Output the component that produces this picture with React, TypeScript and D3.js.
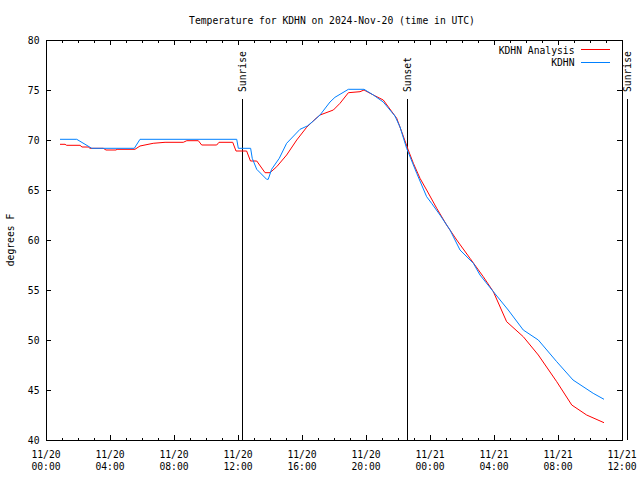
import React from "react";
import * as d3 from "d3";

const TITLE = "Temperature for KDHN on 2024-Nov-20 (time in UTC)";
const Y_LABEL = "degrees F";
const START = "2024-11-20T00:00:00Z";
const END = "2024-11-21T12:00:00Z";

// hours after 11/20 00:00 UTC
const analysisHours = [0.875, 1.19, 1.29, 2.125, 2.25, 2.64, 2.75, 3.58, 3.75, 4.375, 4.44, 5.56, 5.875, 6.7, 7.44, 8.58, 8.8, 9.52, 9.73, 10.67, 10.81, 11.67, 11.875, 12.54, 12.78, 13.17, 13.69, 14.0, 14.42, 15.04, 15.67, 16.29, 16.81, 17.125, 17.96, 18.375, 18.9, 19.625, 19.875, 20.46, 21.08, 21.92, 22.23, 22.64, 22.96, 23.375, 23.79, 24.42, 25.04, 25.67, 26.5, 27.33, 27.96, 28.79, 29.83, 30.77, 31.92, 32.86, 33.79, 34.875];
const analysisTemps = [69.57, 69.57, 69.47, 69.47, 69.3, 69.3, 69.17, 69.17, 69.0, 69.0, 69.07, 69.07, 69.4, 69.67, 69.77, 69.77, 69.93, 69.93, 69.5, 69.5, 69.77, 69.77, 68.9, 68.9, 67.9, 67.9, 66.73, 66.73, 67.33, 68.5, 70.0, 71.27, 72.07, 72.5, 73.0, 73.67, 74.73, 74.83, 75.0, 74.5, 74.0, 72.17, 70.83, 69.0, 67.67, 66.17, 65.0, 63.17, 61.5, 60.0, 58.17, 56.33, 54.83, 51.83, 50.33, 48.5, 45.83, 43.5, 42.5, 41.73];

const obsHours = [0.875, 1.92, 2.86, 5.52, 5.875, 11.92, 12.02, 12.79, 12.89, 13.17, 13.79, 13.89, 14.1, 14.58, 15.04, 15.875, 16.33, 16.71, 17.125, 17.75, 18.06, 18.9, 19.875, 20.46, 21.08, 21.81, 22.125, 22.54, 23.17, 23.79, 24.1, 24.625, 25.25, 25.875, 26.71, 27.125, 27.96, 28.89, 29.83, 30.77, 31.92, 32.94, 34.2, 34.875];
const obsTemps = [70.07, 70.07, 69.17, 69.17, 70.07, 70.07, 69.17, 69.17, 68.17, 67.07, 66.07, 66.07, 67.07, 68.17, 69.67, 71.07, 71.4, 71.9, 72.5, 73.8, 74.27, 75.07, 75.07, 74.5, 73.8, 72.4, 71.3, 69.17, 66.67, 64.33, 63.67, 62.5, 61.0, 59.0, 57.67, 56.5, 54.83, 53.0, 51.0, 50.0, 47.83, 46.0, 44.67, 44.07];

const eventLabels = ["Sunrise", "Sunset", "Sunrise"];
const eventHours = [12.25, 22.56, 36.31];

const seriesNames = ["KDHN Analysis", "KDHN"];
const seriesColors = ["#ff0000", "#0080ff"];

const yTicks = [40, 45, 50, 55, 60, 65, 70, 75, 80];

const W = 640, H = 480;
const L = 46, R = 622, T = 40, B = 440;
const FONT = "'DejaVu Sans Mono', 'Liberation Mono', monospace";
const FS = 9.7;

export default function App() {
  const t0 = new Date(START).getTime();
  const toDate = (h: number) => new Date(t0 + h * 3600e3);
  const x = d3.scaleUtc().domain([new Date(START), new Date(END)]).range([L, R]);
  const y = d3.scaleLinear().domain([40, 80]).range([B, T]);

  const line = d3
    .line<[number, number]>()
    .x((d) => x(toDate(d[0])))
    .y((d) => y(d[1]));

  const aData = analysisHours.map((h, i) => [h, analysisTemps[i]] as [number, number]);
  const oData = obsHours.map((h, i) => [h, obsTemps[i]] as [number, number]);

  const minor = d3.utcHour.range(new Date(START), new Date(END));
  const major = d3.utcHour.every(4)!.range(new Date(START), new Date(new Date(END).getTime() + 1));
  const fmtD = d3.utcFormat("%m/%d");
  const fmtT = d3.utcFormat("%H:%M");

  return (
    <svg
      width={W}
      height={H}
      style={{ position: "absolute", left: 0, top: 0, background: "#fff" }}
      fontFamily={FONT}
      fontSize={FS}
    >
      <rect x={0} y={0} width={W} height={H} fill="#fff" />
      <text x={332} y={24} textAnchor="middle" fill="#000">{TITLE}</text>

      <g stroke="#000" strokeWidth={1} shapeRendering="crispEdges">
        {minor.map((d, i) => (
          <g key={"m" + i}>
            <line x1={Math.round(x(d)) + 0.5} x2={Math.round(x(d)) + 0.5} y1={B} y2={B - 2.5} />
            <line x1={Math.round(x(d)) + 0.5} x2={Math.round(x(d)) + 0.5} y1={T} y2={T + 2.5} />
          </g>
        ))}
        {major.map((d, i) => (
          <g key={"M" + i}>
            <line x1={Math.round(x(d)) + 0.5} x2={Math.round(x(d)) + 0.5} y1={B} y2={B - 5} />
            <line x1={Math.round(x(d)) + 0.5} x2={Math.round(x(d)) + 0.5} y1={T} y2={T + 5} />
          </g>
        ))}
        {yTicks.map((v) => (
          <g key={"y" + v}>
            <line x1={L} x2={L + 5} y1={Math.round(y(v)) + 0.5} y2={Math.round(y(v)) + 0.5} />
            <line x1={R} x2={R - 5} y1={Math.round(y(v)) + 0.5} y2={Math.round(y(v)) + 0.5} />
          </g>
        ))}
      </g>

      {major.map((d, i) => (
        <g key={"lab" + i} fill="#000">
          <text x={x(d)} y={458} textAnchor="middle">{fmtD(d)}</text>
          <text x={x(d)} y={470} textAnchor="middle">{fmtT(d)}</text>
        </g>
      ))}
      {yTicks.map((v) => (
        <text key={"yl" + v} x={39.5} y={y(v) + 3.5} textAnchor="end" fill="#000">{v}</text>
      ))}

      <text transform={`translate(14,240) rotate(-90)`} textAnchor="middle" fill="#000">{Y_LABEL}</text>

      {eventHours.map((h, i) => {
        const ex = Math.round(x(toDate(h))) + 0.5;
        return (
          <g key={"ev" + i}>
            <line x1={ex} x2={ex} y1={99} y2={B} stroke="#000" strokeWidth={1} shapeRendering="crispEdges" />
            <text transform={`translate(${ex + 3.5},92) rotate(-90)`} textAnchor="start" fill="#000">{eventLabels[i]}</text>
          </g>
        );
      })}

      <path d={line(aData)!} fill="none" stroke={seriesColors[0]} strokeWidth={1} />
      <path d={line(oData)!} fill="none" stroke={seriesColors[1]} strokeWidth={1} />

      {seriesNames.map((n, i) => (
        <g key={"lg" + i}>
          <text x={574.5} y={53.5 + i * 12.5} textAnchor="end" fill="#000">{n}</text>
          <line x1={581} x2={610} y1={49.5 + i * 12.5} y2={49.5 + i * 12.5} stroke={seriesColors[i]} strokeWidth={1} shapeRendering="crispEdges" />
        </g>
      ))}

      <rect x={L + 0.5} y={T + 0.5} width={R - L} height={B - T} fill="none" stroke="#000" strokeWidth={1} shapeRendering="crispEdges" />
    </svg>
  );
}
